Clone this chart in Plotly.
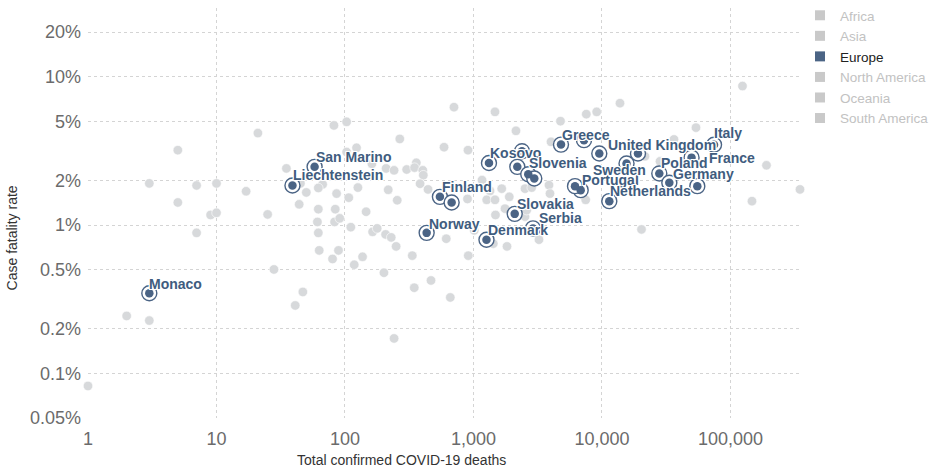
import numpy as np
import plotly.graph_objects as go

# ---------------- data ----------------
eur_names = ["Monaco", "Liechtenstein", "San Marino", "Finland", "Latvia", "Norway",
             "Denmark", "Kosovo", "Bosnia and Herzegovina", "Slovenia", "Croatia",
             "Moldova", "Slovakia", "Serbia", "Greece", "Bulgaria", "United Kingdom",
             "Belgium", "Italy", "France", "Portugal", "Sweden", "Romania",
             "Netherlands", "Poland", "Germany", "Russia"]
eur_deaths = [3, 39, 58, 548, 676, 432,
              1262, 1320, 2385, 2193, 2669,
              2972, 2093, 2904, 4797, 7244, 9528,
              19055, 74470, 49770, 6826, 6166, 15520,
              11400, 27920, 33420, 55190]
eur_cfr = [0.347, 1.85, 2.47, 1.55, 1.42, 0.886,
           0.797, 2.62, 3.15, 2.47, 2.20,
           2.06, 1.19, 0.95, 3.49, 3.74, 3.04,
           3.04, 3.48, 2.85, 1.72, 1.83, 2.60,
           1.45, 2.23, 1.93, 1.83]
labeled = ["Monaco", "Liechtenstein", "San Marino", "Finland", "Norway", "Denmark",
           "Kosovo", "Slovenia", "Slovakia", "Serbia", "Greece", "United Kingdom",
           "Italy", "France", "Portugal", "Sweden", "Netherlands", "Poland", "Germany"]

other_deaths = [1, 2, 3, 3, 5, 5, 7, 7, 10, 9, 10, 17, 21, 25, 35, 28, 28, 41, 47, 44,
                50, 82, 103, 267, 123, 103, 67, 62, 86, 107, 126, 162, 217, 255, 209,
                241, 302, 359, 348, 403, 407, 384, 443, 62, 84, 146, 61, 83, 91, 111,
                62, 164, 178, 207, 229, 250, 63, 89, 80, 137, 334, 590, 906, 898, 1165,
                705, 1470, 2141, 4754, 7548, 9096, 1344, 1267, 1470, 1658, 1899, 614,
                911, 1823, 1483, 2517, 2594, 3233, 2517, 2838, 3868, 3938, 7468, 4010,
                118, 201, 346, 467, 660, 241, 1014, 1759, 1426, 13806, 36340, 53890,
                190600, 347500, 147000, 124000, 20300, 21600, 28280, 45, 600]
other_cfr = [0.0822, 0.244, 0.227, 1.91, 3.20, 1.42, 1.85, 0.886, 1.91, 1.17, 1.21,
             1.69, 4.17, 1.18, 2.41, 0.502, 0.0492, 0.287, 0.354, 1.38,
             1.66, 4.70, 4.97, 3.81, 3.32, 3.11, 1.88, 1.78, 1.63, 1.53, 1.79, 2.59,
             1.73, 1.47, 2.41, 2.34, 2.37, 2.63, 2.44, 2.34, 2.17, 1.90, 1.74, 1.28,
             1.28, 1.23, 1.05, 1.05, 1.11, 0.968, 0.886, 0.900, 0.950, 0.865, 0.826,
             0.718, 0.675, 0.675, 0.591, 0.611, 0.622, 3.35, 3.20, 1.50, 2.01,
             6.24, 5.80, 4.32, 5.02, 5.60, 5.80, 1.70, 1.48, 1.48, 1.76, 1.55, 0.809,
             0.622, 0.718, 1.17, 1.14, 1.26, 0.797, 1.76, 1.79, 1.86, 1.63, 1.48, 3.64,
             0.540, 0.477, 0.378, 0.423, 0.325, 0.172, 0.921, 1.29, 0.749, 6.64, 3.78,
             4.54, 2.53, 1.74, 1.45, 8.66, 0.935, 2.91, 2.69, 1.91, 29.4]

continents = ["Africa", "Asia", "Europe", "North America", "Oceania", "South America"]
highlighted = "Europe"

x_tickvals = [1, 10, 100, 1000, 10000, 100000]
x_ticktext = ["1", "10", "100", "1,000", "10,000", "100,000"]
y_tickvals = [0.05, 0.1, 0.2, 0.5, 1, 2, 5, 10, 20]
y_ticktext = ["0.05%", "0.1%", "0.2%", "0.5%", "1%", "2%", "5%", "10%", "20%"]

# ---------------- styles ----------------
FONT = "Liberation Sans, Arial, sans-serif"
EUR = "#4b6485"
LABEL = "#405c7e"
GREY = "#d7d9db"
LEG_GREY = "#c9c9c9"
LEG_TEXT_GREY = "#c2c2c2"

# label offsets in screen px (dx right, dy down) from the point
label_offsets = {
    "Monaco": (0, -9.5), "Liechtenstein": (1, -10), "San Marino": (1.5, -9.5),
    "Finland": (2, -9.5), "Norway": (2, -8.5), "Denmark": (2, -10),
    "Kosovo": (1, -10), "Slovenia": (12, -3.5), "Slovakia": (2, -10),
    "Serbia": (6, -10), "Greece": (1, -9.5), "United Kingdom": (9, -8.5),
    "Italy": (0, -11.5), "France": (17, 0), "Portugal": (1, -10),
    "Sweden": (18, -16), "Netherlands": (1, -10.5), "Poland": (2, -10),
    "Germany": (4, -9),
}

fig = go.Figure()

# grey (other continents) points
fig.add_trace(go.Scatter(
    x=other_deaths, y=other_cfr, mode="markers", showlegend=False,
    cliponaxis=False, hoverinfo="skip",
    marker=dict(size=9.5, color=GREY, line=dict(color="white", width=0.6)),
))

# Europe: ring then dot
fig.add_trace(go.Scatter(
    x=eur_deaths, y=eur_cfr, mode="markers", showlegend=False, cliponaxis=False,
    hoverinfo="skip",
    marker=dict(size=15, color="white", line=dict(color=EUR, width=1.4)),
))
fig.add_trace(go.Scatter(
    x=eur_deaths, y=eur_cfr, mode="markers", showlegend=False, cliponaxis=False,
    text=eur_names, hoverinfo="text",
    marker=dict(size=8.5, color=EUR, line=dict(width=0)),
))

# legend entries
for c in continents:
    active = c == highlighted
    col = EUR if active else LEG_GREY
    tcol = "#222" if active else LEG_TEXT_GREY
    fig.add_trace(go.Scatter(
        x=[None], y=[None], mode="markers",
        name=f"<span style='color:{tcol}'>{c}</span>",
        marker=dict(symbol="square", size=10, color=col, line=dict(width=0)),
    ))

# labels
halo = ("1px 1px 0 #fff, -1px -1px 0 #fff, 1px -1px 0 #fff, -1px 1px 0 #fff, "
        "0 1px 0 #fff, 0 -1px 0 #fff, 1px 0 0 #fff, -1px 0 0 #fff")
annotations = []
for n, d, c in zip(eur_names, eur_deaths, eur_cfr):
    if n not in labeled:
        continue
    dx, dy = label_offsets.get(n, (2, -10))
    annotations.append(dict(
        x=np.log10(d), y=np.log10(c), xref="x", yref="y", text=n,
        showarrow=False, xanchor="left", yanchor="middle",
        xshift=dx, yshift=-dy, borderpad=0, borderwidth=0,
        font=dict(family=FONT, size=14, color=LABEL, weight="bold", shadow=halo),
    ))

# axis titles
annotations.append(dict(
    text="Total confirmed COVID-19 deaths", xref="paper", yref="paper",
    x=0.441, y=-0.103, xanchor="center", yanchor="middle", showarrow=False,
    font=dict(family=FONT, size=14, color="#333"),
))
annotations.append(dict(
    text="Case fatality rate", xref="paper", yref="paper",
    x=-0.107, y=0.44, xanchor="center", yanchor="middle", showarrow=False,
    textangle=-90, font=dict(family=FONT, size=14, color="#333"),
))

fig.update_layout(
    width=933, height=470,
    margin=dict(l=88, r=133, t=8, b=52, pad=0, autoexpand=False),
    paper_bgcolor="white", plot_bgcolor="white",
    font=dict(family=FONT),
    showlegend=True,
    legend=dict(x=1.0, xanchor="left", y=1.0195, yanchor="top",
                font=dict(family=FONT, size=13.5, color="#222"),
                bgcolor="rgba(0,0,0,0)", borderwidth=0,
                itemclick=False, itemdoubleclick=False, tracegroupgap=0),
    annotations=annotations,
    xaxis=dict(type="log", range=[0, 5.541], tickvals=x_tickvals, ticktext=x_ticktext,
               showgrid=True, gridcolor="#d4d4d4", griddash="3px,3px", gridwidth=1,
               zeroline=False, showline=False, ticks="", automargin=False,
               tickfont=dict(family=FONT, size=18, color="#6b6b6b"),
               ticklabelstandoff=8),
    yaxis=dict(type="log", range=[np.log10(0.05), 1.4639], tickvals=y_tickvals,
               ticktext=y_ticktext, automargin=False,
               showgrid=True, gridcolor="#d4d4d4", griddash="3px,3px", gridwidth=1,
               zeroline=False, showline=False, ticks="",
               tickfont=dict(family=FONT, size=18, color="#6b6b6b"),
               ticklabelstandoff=6),
    hovermode="closest",
)

fig.write_html("out.html", config={"displayModeBar": False},
               post_script="document.body.style.margin='0px';document.body.style.overflow='hidden';")
